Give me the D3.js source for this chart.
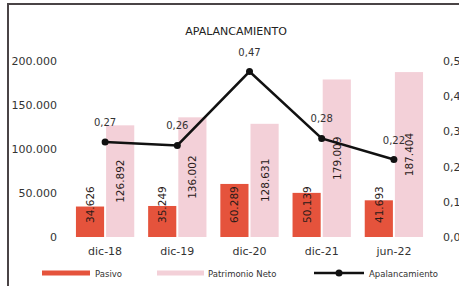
<!DOCTYPE html>
<html>
<head>
<meta charset="utf-8">
<script src="https://cdn.jsdelivr.net/npm/d3@7"></script>
<style>
  html, body { margin: 0; padding: 0; background: #fff; overflow: hidden; }
  svg { display: block; font-family: "DejaVu Sans", Verdana, sans-serif; }
</style>
</head>
<body>
<div class="chart"></div>
<script>
// data
const periods = ["dic-18", "dic-19", "dic-20", "dic-21", "jun-22"];
const pasivo = [34626, 35249, 60289, 50139, 41693];
const patrimonio = [126892, 136002, 128631, 179009, 187404];
const apalancamiento = [0.27, 0.26, 0.47, 0.28, 0.22];
const leftTicks = [0, 50000, 100000, 150000, 200000];
const rightTicks = [0, 0.1, 0.2, 0.3, 0.4, 0.5];

// setup chart
const width = 459;
const height = 286;
const pasivoColor = "#e5533c";
const patrimonioColor = "#f3d0d8";
const textColor = "#333";

const svg = d3.select(".chart")
  .append("svg")
  .attr("width", width)
  .attr("height", height);

// frame (scanned border)
svg.append("line")
  .attr("x1", 7).attr("x2", width).attr("y1", 4).attr("y2", 4)
  .attr("stroke", "#4a4446").attr("stroke-width", 2);
svg.append("line")
  .attr("x1", 8).attr("x2", 8).attr("y1", 3).attr("y2", height)
  .attr("stroke", "#4a4446").attr("stroke-width", 2);

svg.append("text")
  .attr("x", 236).attr("y", 35)
  .attr("text-anchor", "middle")
  .attr("font-size", 11)
  .attr("fill", "#222")
  .text("APALANCAMIENTO");

const x = d3.scaleBand().domain(periods).range([69, 430]);
const yLeft = d3.scaleLinear().domain([0, 200000]).range([237, 61]);
const yRight = d3.scaleLinear().domain([0, 0.5]).range([237, 61]);
const fmtInt = v => d3.format(",")(v).replace(/,/g, ".");
const fmtDec = (v, n) => v.toFixed(n).replace(".", ",");

// axes (no lines, labels only)
const leftAxis = svg.append("g")
  .attr("transform", "translate(57,0)")
  .call(d3.axisLeft(yLeft).tickValues(leftTicks).tickSize(0).tickPadding(0).tickFormat(fmtInt));
const rightAxis = svg.append("g")
  .attr("transform", "translate(443,0)")
  .call(d3.axisRight(yRight).tickValues(rightTicks).tickSize(0).tickPadding(0).tickFormat(d => fmtDec(d, 1)));
const xAxis = svg.append("g")
  .attr("transform", "translate(0,247)")
  .call(d3.axisBottom(x).tickSize(0).tickPadding(0));
[leftAxis, rightAxis, xAxis].forEach(g => {
  g.select(".domain").remove();
  g.selectAll("text").attr("font-size", 11).attr("fill", textColor)
    .attr("font-family", "DejaVu Sans, Verdana, sans-serif");
});

// bars
const barW = x.bandwidth() * 0.39;
const gap = 2;
const cx = d => x(d) + x.bandwidth() / 2;

svg.selectAll(".pasivo")
  .data(periods)
  .enter()
  .append("rect")
  .attr("class", "pasivo")
  .attr("x", d => cx(d) - gap / 2 - barW)
  .attr("width", barW)
  .attr("y", (d, i) => yLeft(pasivo[i]))
  .attr("height", (d, i) => yLeft(0) - yLeft(pasivo[i]))
  .attr("fill", pasivoColor);

svg.selectAll(".patrimonio")
  .data(periods)
  .enter()
  .append("rect")
  .attr("class", "patrimonio")
  .attr("x", d => cx(d) + gap / 2)
  .attr("width", barW)
  .attr("y", (d, i) => yLeft(patrimonio[i]))
  .attr("height", (d, i) => yLeft(0) - yLeft(patrimonio[i]))
  .attr("fill", patrimonioColor);

// bar labels (rotated)
svg.selectAll(".pasivo-label")
  .data(periods)
  .enter()
  .append("text")
  .attr("class", "pasivo-label")
  .attr("transform", d => `translate(${cx(d) - gap / 2 - barW / 2 + 4},${yLeft(0) - 14}) rotate(-90)`)
  .attr("text-anchor", "start")
  .attr("font-size", 10.5)
  .attr("fill", "#2a1a18")
  .text((d, i) => fmtInt(pasivo[i]));

svg.selectAll(".patrimonio-label")
  .data(periods)
  .enter()
  .append("text")
  .attr("class", "patrimonio-label")
  .attr("transform", (d, i) => `translate(${cx(d) + gap / 2 + barW / 2 + 4},${(yLeft(0) + yLeft(patrimonio[i])) / 2}) rotate(-90)`)
  .attr("text-anchor", "middle")
  .attr("font-size", 10.5)
  .attr("fill", "#2a1a18")
  .text((d, i) => fmtInt(patrimonio[i]));

// line
const line = d3.line()
  .x(d => cx(d.p))
  .y(d => yRight(d.v));
const pts = periods.map((p, i) => ({ p, v: apalancamiento[i] }));

svg.append("path")
  .datum(pts)
  .attr("d", line)
  .attr("fill", "none")
  .attr("stroke", "#111")
  .attr("stroke-width", 2.5);

svg.selectAll(".dot")
  .data(pts)
  .enter()
  .append("circle")
  .attr("cx", d => cx(d.p))
  .attr("cy", d => yRight(d.v))
  .attr("r", 3.5)
  .attr("fill", "#111");

svg.selectAll(".line-label")
  .data(pts)
  .enter()
  .append("text")
  .attr("x", d => cx(d.p))
  .attr("y", d => yRight(d.v) - 16)
  .attr("text-anchor", "middle")
  .attr("font-size", 10)
  .attr("fill", textColor)
  .text(d => fmtDec(d.v, 2));

// legend
const legend = svg.append("g").attr("transform", "translate(0,273)");
legend.append("rect").attr("x", 42).attr("y", -2.5).attr("width", 48).attr("height", 5).attr("fill", pasivoColor);
legend.append("text").attr("x", 95).attr("y", 3.5).attr("font-size", 8.5).attr("fill", textColor).text("Pasivo");
legend.append("rect").attr("x", 157).attr("y", -2.5).attr("width", 47).attr("height", 5).attr("fill", patrimonioColor);
legend.append("text").attr("x", 208).attr("y", 3.5).attr("font-size", 8.5).attr("fill", textColor).text("Patrimonio Neto");
legend.append("line").attr("x1", 314).attr("x2", 364).attr("y1", 0).attr("y2", 0).attr("stroke", "#111").attr("stroke-width", 2.5);
legend.append("circle").attr("cx", 339).attr("cy", 0).attr("r", 3.5).attr("fill", "#111");
legend.append("text").attr("x", 369).attr("y", 3.5).attr("font-size", 8.5).attr("fill", textColor).text("Apalancamiento");
</script>
</body>
</html>
